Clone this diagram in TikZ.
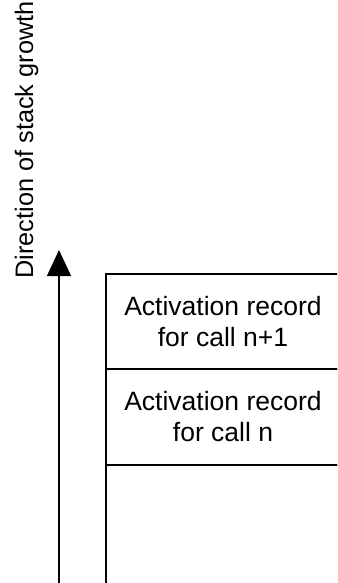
\documentclass[tikz,border=0pt]{standalone}
\usepackage{fontspec}
\setmainfont{Liberation Sans}
\usetikzlibrary{arrows.meta}
\tikzset{
  rec/.style={draw=black, line width=1.3pt, minimum width=234pt, inner sep=0pt,
    align=center, font=\fontsize{26.5}{31}\selectfont},
  growarrow/.style={line width=1.3pt, -{Triangle[length=26pt,width=24pt]}},
  lbl/.style={font=\fontsize{25.3}{30}\selectfont, inner sep=0pt}
}
\begin{document}
\begin{tikzpicture}[x=1pt,y=-1pt]
\useasboundingbox (0,0) rectangle (337,583);
\clip (0,0) rectangle (337,583);
\node[rec, minimum height=95pt] (r1) at (223,321.5) {Activation record\\for call n+1};
\node[rec, minimum height=96pt] (r2) at (223,417) {Activation record\\for call n};
\node[rec, minimum height=125pt] (r3) at (223,527.5) {};
\coordinate (abot) at (59,595);
\coordinate (atop) at (59,250);
\draw[growarrow] (abot) -- (atop);
\node[lbl, rotate=90, anchor=base] (dir) at (33,140) {Direction of stack growth};
\end{tikzpicture}
\end{document}
